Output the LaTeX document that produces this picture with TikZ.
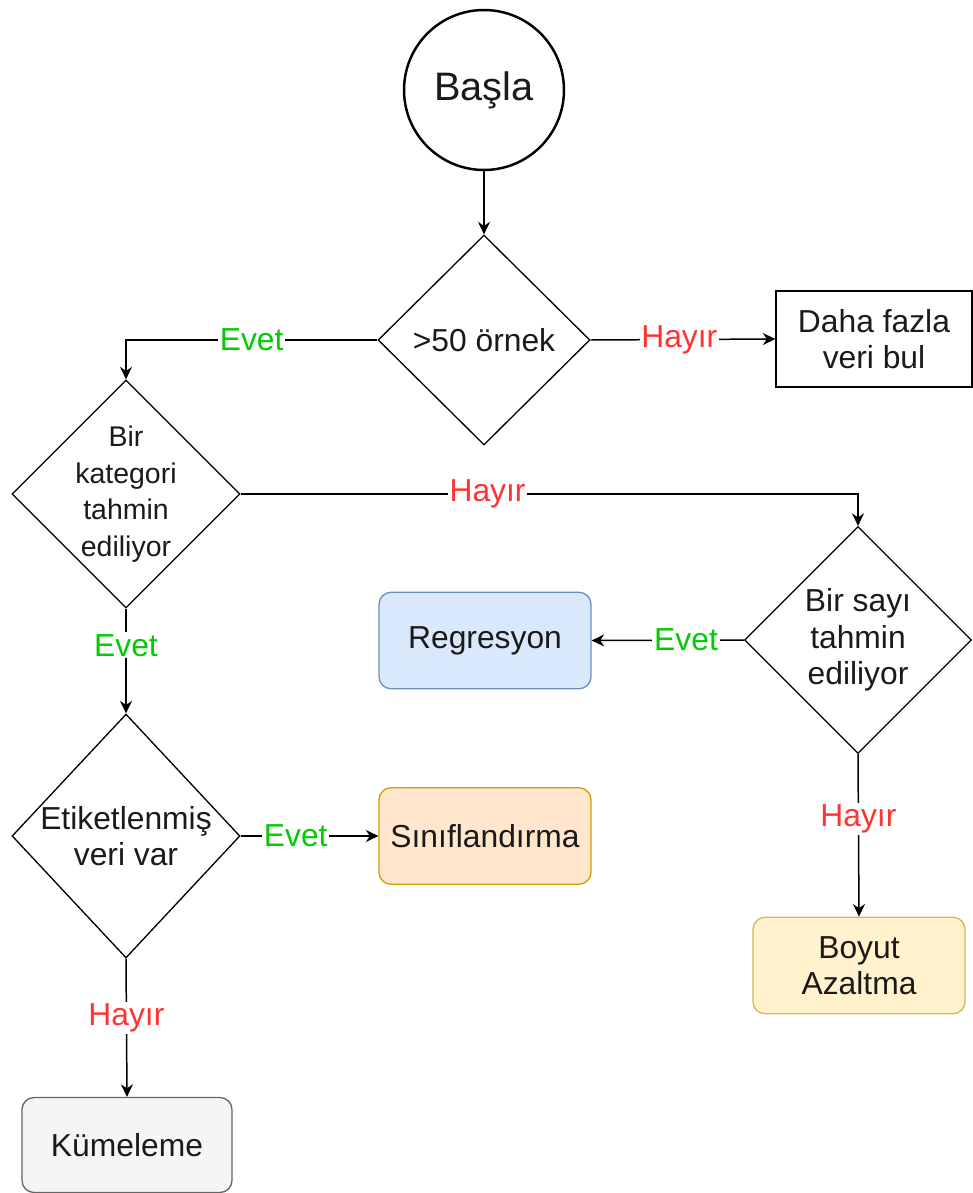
\documentclass[tikz,border=0pt]{standalone}
\usepackage{fontspec}
\setmainfont{Liberation Sans}
\usetikzlibrary{shapes.geometric,arrows.meta}
\definecolor{txt}{HTML}{1A1A1A}
\definecolor{yesgreen}{HTML}{00CC00}
\definecolor{nored}{HTML}{FF3333}
\definecolor{bluefill}{HTML}{DAE8FC}
\definecolor{blueline}{HTML}{6C8EBF}
\definecolor{orangefill}{HTML}{FFE6CC}
\definecolor{orangeline}{HTML}{D79B00}
\definecolor{yellowfill}{HTML}{FFF2CC}
\definecolor{yellowline}{HTML}{D6B656}
\definecolor{grayfill}{HTML}{F5F5F5}
\definecolor{grayline}{HTML}{666666}
\tikzset{
  base/.style={text=txt,font=\fontsize{18.1pt}{20.8pt}\selectfont,align=center,inner sep=0pt},
  smalltext/.style={font=\fontsize{16.2pt}{20.8pt}\selectfont},
  startnode/.style={base,circle,draw=black,line width=1.4pt,minimum size=3.2cm,font=\fontsize{22.6pt}{26pt}\selectfont},
  decision/.style={base,diamond,draw=black,line width=0.75pt},
  plainbox/.style={base,rectangle,draw=black,line width=0.75pt},
  resultbox/.style={base,rectangle,rounded corners=0.24cm,line width=0.75pt,minimum width=4.24cm,minimum height=1.93cm},
  conn/.style={draw=black,line width=0.85pt,-{Stealth[length=2.5mm,width=2.4mm,inset=0.8mm]}},
  yes/.style={fill=white,text=yesgreen,font=\fontsize{18.1pt}{20pt}\selectfont,inner sep=1pt},
  no/.style={fill=white,text=nored,font=\fontsize{18.1pt}{20pt}\selectfont,inner sep=1pt},
}
\begin{document}
\begin{tikzpicture}[x=0.02cm,y=-0.02cm]
\useasboundingbox (0,0) rectangle (973,1193);
\node[startnode] (start) at (484,90) {Başla};
\node[decision,minimum width=4.24cm,minimum height=4.2cm] (d1) at (484,340) {>50 örnek};
\node[plainbox,minimum width=3.92cm,minimum height=1.92cm] (more) at (874,339) {Daha fazla\\veri bul};
\node[decision,minimum width=4.56cm,minimum height=4.56cm] (d2) at (126,494) {};
\node[base,smalltext] (d2text) at (d2.center) {Bir\\kategori\\tahmin\\ediliyor};
\node[decision,minimum width=4.54cm,minimum height=4.54cm] (d3) at (858,640) {};
\node[base] (d3text) at (d3.center) {Bir sayı\\tahmin\\ediliyor};
\node[resultbox,fill=bluefill,draw=blueline] (reg) at (485,640.5) {Regresyon};
\node[resultbox,fill=yellowfill,draw=yellowline] (boyut) at (859,965.5) {Boyut\\Azaltma};
\node[decision,minimum width=4.56cm,minimum height=4.88cm] (d4) at (126,836) {};
\node[base] (d4text) at (d4.center) {Etiketlenmiş\\veri var};
\node[resultbox,fill=orangefill,draw=orangeline] (sinif) at (485,836) {Sınıflandırma};
\node[resultbox,fill=grayfill,draw=grayline,minimum width=4.2cm,minimum height=1.9cm] (kume) at (127,1145) {Kümeleme};

\draw[conn] (start) -- (d1.north);
\draw[conn] (d1.east) -- node[no,pos=0.48] {Hayır} (more.west);
\draw[conn] (d1.west) -| node[yes,pos=0.25] {Evet} (d2.north);
\draw[conn] (d2.east) -| node[no,pos=0.2] {Hayır} (d3.north);
\draw[conn] (d3.west) -- node[yes,pos=0.38] {Evet} (reg.east);
\draw[conn] (d3.south) -- node[no,pos=0.4] {Hayır} (boyut.north);
\draw[conn] (d2.south) -- node[yes,pos=0.35] {Evet} (d4.north);
\draw[conn] (d4.east) -- node[yes,pos=0.4] {Evet} (sinif.west);
\draw[conn] (d4.south) -- node[no,pos=0.43] {Hayır} (kume.north);
\end{tikzpicture}
\end{document}
